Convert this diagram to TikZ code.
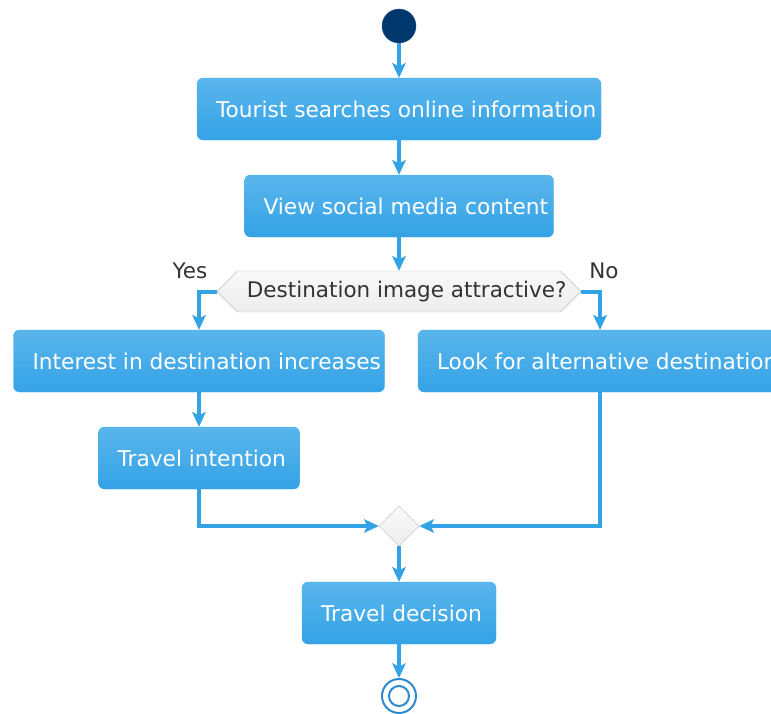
\documentclass[tikz,border=0pt]{standalone}
\usepackage{fontspec}
\setmainfont{DejaVu Sans}
\usetikzlibrary{arrows.meta,positioning,shapes.geometric,shapes.symbols}
\definecolor{actlight}{HTML}{5AB6EC}
\definecolor{actdark}{HTML}{34A2E6}
\definecolor{actedge}{HTML}{4AAEEA}
\definecolor{flow}{HTML}{34A3E5}
\definecolor{startfill}{HTML}{00386E}
\definecolor{startedge}{HTML}{1B4F85}
\definecolor{stopline}{HTML}{2B8BD2}
\definecolor{guardtext}{HTML}{333333}
\definecolor{hexlight}{HTML}{F9F9F9}
\definecolor{hexdark}{HTML}{EDEDED}
\definecolor{hexedge}{HTML}{BDBDBD}

\begin{document}
\begin{tikzpicture}[x=1pt,y=-1pt,
  act/.style={draw=actedge,top color=actlight,bottom color=actdark,rounded corners=6pt,minimum height=62pt,inner sep=0pt},
  acttext/.style={anchor=west,xshift=19pt,inner sep=0pt,text=white,font=\fontsize{21.7}{26}\selectfont},
  guard/.style={text=guardtext,inner sep=0pt,font=\fontsize{21.5}{26}\selectfont},
  arr/.style={-{Stealth[length=15pt,width=14pt,inset=3.5pt,line width=0pt,fill=flow]},draw=flow,line width=4pt}]
\useasboundingbox (0,0) rectangle (771,713);
\node[circle,fill=startfill,draw=startedge,minimum size=34pt,inner sep=0pt] (start) at (399,26) {};
\node[act,minimum width=404pt,label={[acttext]west:Tourist searches online information}] (search) at (399,109) {};
\node[act,minimum width=309pt,label={[acttext]west:View social media content}] (social) at (399,206) {};
\node[signal,signal to=west and east,signal pointer angle=90,draw=hexedge,top color=hexlight,bottom color=hexdark,
  minimum width=364pt,minimum height=41pt,inner sep=0pt,
  label={[guard,anchor=west,xshift=30pt]west:Destination image attractive?}] (attract) at (399,291.5) {};
\node[guard] (yes) at (190,271) {Yes};
\node[guard] (no) at (604,271) {No};
\node[act,minimum width=371pt,label={[acttext]west:Interest in destination increases}] (interest) at (199,361) {};
\begin{scope}
  \clip (0,0) rectangle (771,713);
  \node[act,minimum width=364pt,label={[acttext]west:Look for alternative destination}] (alternative) at (600,361) {};
\end{scope}
\node[act,minimum width=201pt,label={[acttext]west:Travel intention}] (intention) at (199,458) {};
\node[diamond,draw=hexedge,top color=hexlight,bottom color=hexdark,minimum size=40pt,inner sep=0pt] (merge) at (399,526) {};
\node[act,minimum width=194pt,label={[acttext]west:Travel decision}] (decide) at (399,613) {};
\node[circle,draw=stopline,line width=2pt,fill=white,minimum size=34pt,inner sep=0pt,
  path picture={\draw[stopline,line width=2pt] (path picture bounding box.center) circle (10pt);}] (stop) at (399,696) {};
% flow
\draw[arr] (start) -- (search);
\draw[arr] (search) -- (social);
\draw[arr] (social) -- (attract);
\draw[arr] (attract.west) -| (interest.north);
\draw[arr] (attract.east) -| (alternative.north);
\draw[arr] (interest) -- (intention);
\draw[arr] (intention.south) |- (merge.west);
\draw[arr] (alternative.south) |- (merge.east);
\draw[arr] (merge) -- (decide);
\draw[arr] (decide) -- (stop);
\end{tikzpicture}
\end{document}
